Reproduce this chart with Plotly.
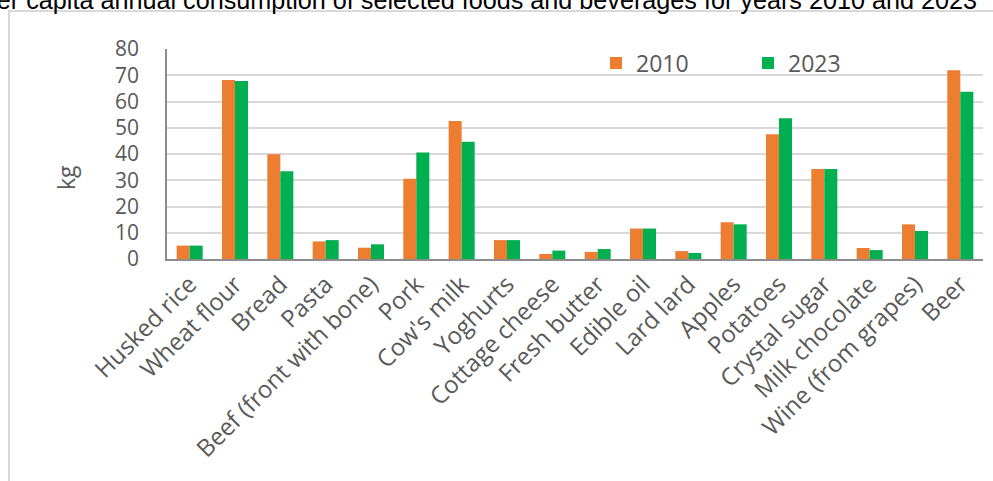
import plotly.graph_objects as go

categories = ["Husked rice", "Wheat flour", "Bread", "Pasta", "Beef (front with bone)", "Pork",
              "Cow's milk", "Yoghurts", "Cottage cheese", "Fresh butter", "Edible oil", "Lard lard",
              "Apples", "Potatoes", "Crystal sugar", "Milk chocolate", "Wine (from grapes)", "Beer"]
values_2010 = [5.1, 68.2, 39.9, 6.7, 4.3, 30.6, 52.6, 7.2, 1.9, 2.7, 11.6, 3.0, 14.0, 47.5, 34.3, 4.2, 13.2, 71.9]
values_2023 = [5.1, 67.8, 33.4, 7.2, 5.6, 40.6, 44.7, 7.2, 3.2, 3.8, 11.6, 2.3, 13.2, 53.6, 34.3, 3.4, 10.7, 63.7]
series_names = ["2010", "2023"]
colors = ["#ED7D31", "#00B050"]
title_text = "Per capita annual consumption of selected foods and beverages for years 2010 and 2023"
y_label = "kg"

W, H = 993, 481
ML, MR, MT, MB = 167, 10, 49, 222
PW = W - ML - MR
PH = H - MT - MB

def px_x(p):
    return (p - ML) / PW

def px_y(p):
    return (H - MB - p) / PH

fig = go.Figure()
for name, vals, col in zip(series_names, [values_2010, values_2023], colors):
    fig.add_trace(go.Bar(x=categories, y=vals, name=name, marker_color=col,
                         marker_line_width=0))

grey_text = "#595959"
fig.update_layout(
    width=W, height=H,
    margin=dict(l=ML, r=MR, t=MT, b=MB),
    paper_bgcolor="white", plot_bgcolor="white",
    barmode="group", bargap=0.426, bargroupgap=0,
    font=dict(family="Open Sans", color=grey_text),
    title=dict(text=title_text, x=977 / W, xanchor="right", xref="container",
               y=1.0, yanchor="middle", yref="container",
               font=dict(family="Liberation Sans", size=25.2, color="black")),
    legend=dict(orientation="h", x=px_x(596), xanchor="left", y=px_y(63), yanchor="middle",
                font=dict(size=23, color=grey_text), entrywidth=107, entrywidthmode="pixels",
                bgcolor="rgba(0,0,0,0)", itemsizing="constant"),
    showlegend=True,
)
fig.update_yaxes(range=[0, 80], dtick=10, showgrid=True, gridcolor="#D9D9D9", gridwidth=1.5,
                 showline=True, linecolor="#8C8C8C", linewidth=1.5, zeroline=False,
                 ticks="", ticklabelstandoff=22, tickfont=dict(size=21, color=grey_text))
fig.update_xaxes(showline=True, linecolor="#8C8C8C", linewidth=1.5, ticks="",
                 tickangle=-45, tickfont=dict(size=24, color=grey_text))

fig.add_annotation(text=y_label, xref="paper", yref="paper", x=px_x(66), y=px_y(178),
                   xanchor="center", yanchor="middle", textangle=-90, showarrow=False,
                   font=dict(size=23, color=grey_text, family="Open Sans"))

fig.add_shape(type="rect", xref="paper", yref="paper",
              x0=px_x(9), x1=px_x(1010), y0=px_y(500), y1=px_y(11),
              line=dict(color="#D9D9D9", width=2), fillcolor="rgba(0,0,0,0)", layer="below")

fig.write_html("out.html")
